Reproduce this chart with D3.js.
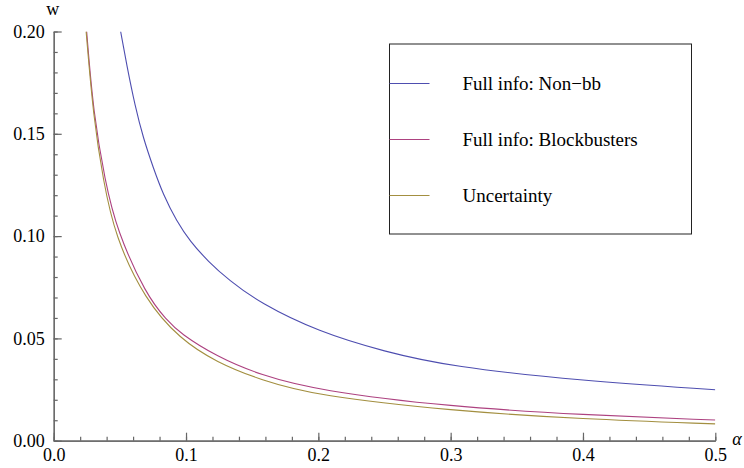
<!DOCTYPE html>
<html>
<head>
<meta charset="utf-8">
<script src="https://cdn.jsdelivr.net/npm/d3@7"></script>
<style>
  body { margin: 0; background: #fff; }
  svg { display: block; }
  svg text { font-family: "Liberation Serif", "Times New Roman", "DejaVu Serif", serif; }
</style>
</head>
<body>
<div id="chartContainer"></div>
<script>
// values
const seriesNames = ["Full info: Non\u2212bb", "Full info: Blockbusters", "Uncertainty"];
const seriesColors = ["#4e4eb0", "#ad4280", "#a38f40"];

const nonBbAlpha = [0.0506, 0.0552, 0.0615, 0.0677, 0.0753, 0.0828, 0.0930, 0.1030, 0.1169, 0.132, 0.156, 0.2, 0.25, 0.3, 0.4, 0.5];
const nonBbW = [0.200, 0.1835, 0.1635, 0.1479, 0.1333, 0.1202, 0.1072, 0.0975, 0.0875, 0.0787, 0.0672, 0.0533, 0.0435, 0.0362, 0.0292, 0.0249];

const blockAlpha = [0.0249, 0.030, 0.0388, 0.0476, 0.070, 0.0854, 0.0955, 0.1232, 0.156, 0.2, 0.3, 0.4, 0.5];
const blockW = [0.200, 0.160, 0.127, 0.103, 0.0710, 0.059, 0.0525, 0.0411, 0.0321, 0.0245, 0.0166, 0.0126, 0.0101];

const uncertAlpha = [0.0245, 0.030, 0.0375, 0.0463, 0.069, 0.0955, 0.1232, 0.156, 0.2, 0.3, 0.4, 0.5];
const uncertW = [0.200, 0.158, 0.127, 0.100, 0.0688, 0.0496, 0.0383, 0.0297, 0.0218, 0.0147, 0.0105, 0.0082];

const xTicks = [0, 0.1, 0.2, 0.3, 0.4, 0.5];
const xTickLabels = ["0.0", "0.1", "0.2", "0.3", "0.4", "0.5"];
const yTicks = [0, 0.05, 0.10, 0.15, 0.20];
const yTickLabels = ["0.00", "0.05", "0.10", "0.15", "0.20"];

function pageLoaded() {
  const w = 744;
  const h = 468;
  const margins = { top: 31.5, left: 53.7, bottom: 27.3, right: 28.7 };
  const innerWidth = w - margins.left - margins.right;
  const innerHeight = h - margins.top - margins.bottom;
  const serif = "'Liberation Serif', 'Times New Roman', serif";

  const series = [
    { name: seriesNames[0], color: seriesColors[0], pts: nonBbAlpha.map((a, i) => [a, nonBbW[i]]) },
    { name: seriesNames[1], color: seriesColors[1], pts: blockAlpha.map((a, i) => [a, blockW[i]]) },
    { name: seriesNames[2], color: seriesColors[2], pts: uncertAlpha.map((a, i) => [a, uncertW[i]]) }
  ];

  const xScale = d3.scaleLinear().domain([0, 0.5]).range([0, innerWidth]);
  const yScale = d3.scaleLinear().domain([0, 0.2]).range([innerHeight, 0]);

  const svg = d3
    .select("#chartContainer")
    .append("svg")
    .attr("width", w)
    .attr("height", h)
    .attr("viewBox", [0, 0, w, h]);

  svg.append("defs")
    .append("clipPath")
    .attr("id", "plotClip")
    .append("rect")
    .attr("x", 0)
    .attr("y", 0)
    .attr("width", innerWidth)
    .attr("height", innerHeight);

  const mainG = svg
    .append("g")
    .attr("transform", `translate(${margins.left}, ${margins.top})`);

  // curves (basis spline evens out small reading errors)
  const line = d3
    .line()
    .x((d) => xScale(d[0]))
    .y((d) => yScale(d[1]))
    .curve(d3.curveBasis);

  mainG
    .append("g")
    .attr("clip-path", "url(#plotClip)")
    .selectAll("path")
    .data(series)
    .enter()
    .append("path")
    .attr("d", (d) => line(d.pts))
    .attr("fill", "none")
    .attr("stroke", (d) => d.color)
    .attr("stroke-width", 1.1);

  // minor ticks
  const xMinor = d3.axisBottom(xScale)
    .tickValues(d3.range(0, 0.501, 0.02))
    .tickSizeInner(-4)
    .tickSizeOuter(0)
    .tickFormat("");
  const yMinor = d3.axisLeft(yScale)
    .tickValues(d3.range(0, 0.2001, 0.01))
    .tickSizeInner(-4)
    .tickSizeOuter(0)
    .tickFormat("");

  // major ticks
  const xAxis = d3.axisBottom(xScale)
    .tickValues(xTicks)
    .tickSizeInner(-8)
    .tickSizeOuter(0)
    .tickPadding(8)
    .tickFormat((d, i) => xTickLabels[i]);
  const yAxis = d3.axisLeft(yScale)
    .tickValues(yTicks)
    .tickSizeInner(-8)
    .tickSizeOuter(0)
    .tickPadding(9)
    .tickFormat((d, i) => yTickLabels[i]);

  const axes = [
    mainG.append("g").attr("transform", `translate(0, ${innerHeight})`).call(xMinor),
    mainG.append("g").call(yMinor),
    mainG.append("g").attr("transform", `translate(0, ${innerHeight})`).call(xAxis),
    mainG.append("g").call(yAxis)
  ];
  axes.forEach((g) => {
    g.attr("font-family", serif);
    g.selectAll("path, line").attr("stroke", "#666").attr("stroke-width", 1.2);
    g.selectAll("text")
      .attr("fill", "#000")
      .attr("font-family", serif)
      .attr("font-size", "18px");
  });

  // axis labels
  mainG.append("text")
    .text("w")
    .attr("x", -1)
    .attr("y", -17)
    .attr("text-anchor", "middle")
    .attr("font-family", serif)
    .attr("font-size", "18px");

  mainG.append("text")
    .text("\u03b1")
    .attr("x", innerWidth + 17)
    .attr("y", innerHeight + 4)
    .attr("font-family", serif)
    .attr("font-style", "italic")
    .attr("font-size", "18px");

  // legend
  const legend = svg.append("g").attr("transform", "translate(389.5, 44)");
  legend.append("rect")
    .attr("width", 302)
    .attr("height", 190)
    .attr("fill", "#fff")
    .attr("stroke", "#222")
    .attr("stroke-width", 1);

  const items = legend
    .selectAll("g.item")
    .data(series)
    .enter()
    .append("g")
    .attr("class", "item")
    .attr("transform", (d, i) => `translate(0, ${39.5 + i * 56})`);

  items.append("line")
    .attr("x1", 0)
    .attr("x2", 40)
    .attr("stroke", (d) => d.color)
    .attr("stroke-width", 1.1);

  items.append("text")
    .text((d) => d.name)
    .attr("x", 73)
    .attr("y", 6.5)
    .attr("font-family", serif)
    .attr("font-size", "19px")
    .attr("fill", "#000");
}

window.addEventListener("load", pageLoaded);
</script>
</body>
</html>
